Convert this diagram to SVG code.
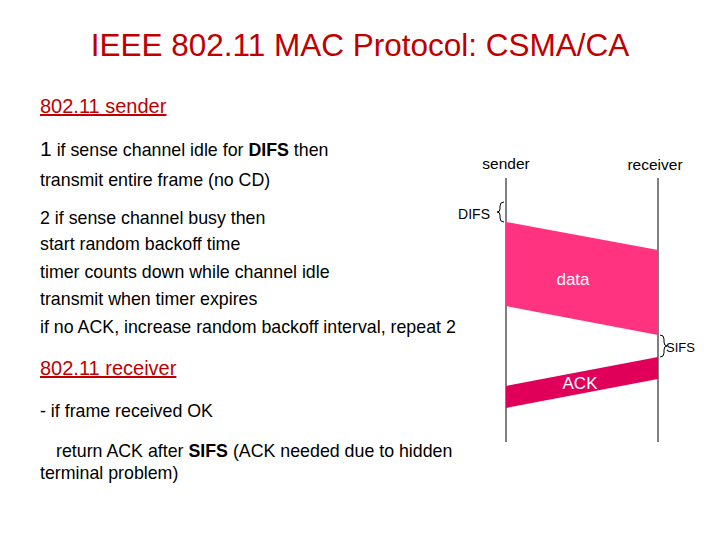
<svg xmlns="http://www.w3.org/2000/svg" width="720" height="540" viewBox="0 0 720 540">
<style>
text{font-family:"Liberation Sans",Arial,sans-serif;fill:#000}
.b{font-size:17.8px}
.h{font-size:20px;fill:#c00000;text-decoration:underline}
.s{font-size:15.5px}
.ln{stroke:#000;stroke-width:1;fill:none}
</style>
<rect width="720" height="540" fill="#fff"/>
<text x="360" y="56" text-anchor="middle" font-size="31.5" style="fill:#c00000">IEEE 802.11 MAC Protocol: CSMA/CA</text>
<text x="40" y="113" class="h">802.11 sender</text>
<text x="40" y="156" class="b"><tspan font-size="21">1</tspan> if sense channel idle for <tspan font-weight="bold">DIFS</tspan>  then</text>
<text x="40" y="186" class="b">transmit entire frame (no CD)</text>
<text x="40" y="224" class="b">2 if sense channel busy then</text>
<text x="40" y="250" class="b">start random backoff time</text>
<text x="40" y="278" class="b">timer counts down while channel idle</text>
<text x="40" y="305" class="b">transmit when timer expires</text>
<text x="40" y="333" class="b">if no ACK, increase random backoff interval, repeat 2</text>
<text x="40" y="375" class="h">802.11 receiver</text>
<text x="40" y="417" class="b">- if frame received OK</text>
<text x="56" y="457" class="b">return ACK after <tspan font-weight="bold">SIFS</tspan> (ACK needed due to hidden</text>
<text x="40" y="479" class="b">terminal problem)</text>
<g id="sender"><text x="506" y="169" class="s" text-anchor="middle">sender</text><line class="ln" x1="506" y1="178" x2="506" y2="442"/></g>
<g id="receiver"><text x="655" y="170" class="s" text-anchor="middle">receiver</text><line class="ln" x1="658" y1="178" x2="658" y2="442"/></g>
<g id="data"><polygon points="506,222 658,250 658,335 506,306" fill="#ff3380"/><text x="573" y="285" font-size="17" text-anchor="middle" style="fill:#fff">data</text></g>
<g id="ack"><polygon points="658,357 658,379 506,408 506,386" fill="#e0005a"/><text x="580" y="389" font-size="17" text-anchor="middle" style="fill:#fff">ACK</text></g>
<g id="difs"><text x="490" y="219" font-size="14" text-anchor="end">DIFS</text><path class="ln" d="M504,202 Q500,202 500,206 L500,209 Q500,212 497,212 Q500,212 500,215 L500,218 Q500,222 504,222"/></g>
<g id="sifs"><path class="ln" d="M660,335 Q664,335 664,339 L664,342 Q664,346 667,346 Q664,346 664,350 L664,353 Q664,357 660,357"/><text x="666" y="352" font-size="13">SIFS</text></g>
<g id="connectors"></g>
</svg>
